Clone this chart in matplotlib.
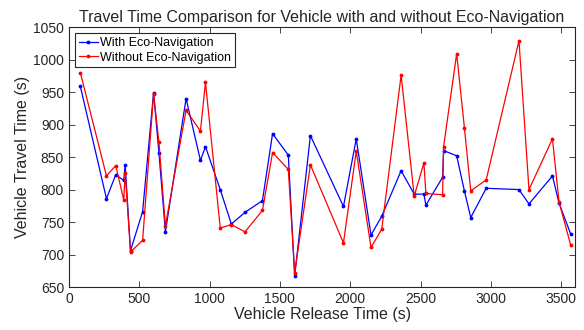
import matplotlib
matplotlib.use('Agg')
import matplotlib.pyplot as plt

plt.rcParams['font.family'] = ['Liberation Sans', 'DejaVu Sans']
gray = (0.15, 0.15, 0.15)

release_time = [81, 267, 333, 390, 400, 438, 524, 602, 640, 686, 833, 935, 971, 1076, 1155,
                1252, 1376, 1448, 1560, 1605, 1717, 1952, 2043, 2148, 2224, 2362, 2455, 2524,
                2538, 2657, 2664, 2757, 2812, 2857, 2967, 3200, 3271, 3438, 3485, 3567]
with_eco = [959, 786, 823, 814, 838, 706, 766, 949, 857, 735, 940, 845, 866, 800, 747,
            765, 783, 886, 853, 667, 883, 774, 878, 730, 759, 829, 793, 793,
            776, 819, 860, 852, 798, 757, 802, 800, 778, 821, 779, 732]
without_eco = [980, 821, 837, 784, 826, 704, 722, 947, 873, 744, 922, 890, 965, 741, 746,
               735, 768, 857, 831, 672, 838, 718, 859, 711, 739, 976, 790, 841,
               794, 792, 866, 1009, 895, 798, 815, 1029, 800, 878, 781, 715]

fig = plt.figure(figsize=(5.84, 3.30), dpi=100)
ax = fig.add_axes([0.118, 0.130, 0.867, 0.788])

ax.plot(release_time, with_eco, '.-', color=(0, 0, 1), lw=0.9, ms=3.5, label='With Eco-Navigation')
ax.plot(release_time, without_eco, '.-', color=(1, 0, 0), lw=0.9, ms=3.5, label='Without Eco-Navigation')

ax.set_xlim(0, 3600)
ax.set_ylim(650, 1050)
ax.set_xticks(range(0, 3501, 500))
ax.set_yticks(range(650, 1051, 50))
ax.tick_params(direction='in', top=True, right=True, labelsize=10, length=4, width=0.6,
               colors=gray)
for s in ax.spines.values():
    s.set_linewidth(0.8)
    s.set_color(gray)

ax.set_title('Travel Time Comparison for Vehicle with and without Eco-Navigation',
             fontsize=11.5, pad=4, color=gray)
ax.set_xlabel('Vehicle Release Time (s)', fontsize=11.5, labelpad=1, color=gray)
ax.set_ylabel('Vehicle Travel Time (s)', fontsize=11.5, labelpad=2, color=gray)

leg = ax.legend(loc='upper left', fontsize=9, fancybox=False, edgecolor=gray,
                framealpha=1, borderpad=0.3, handlelength=1.5, handletextpad=0.2,
                labelspacing=0.2, borderaxespad=0.5)
leg.get_frame().set_linewidth(0.8)

fig.savefig('out.png', dpi=100)
